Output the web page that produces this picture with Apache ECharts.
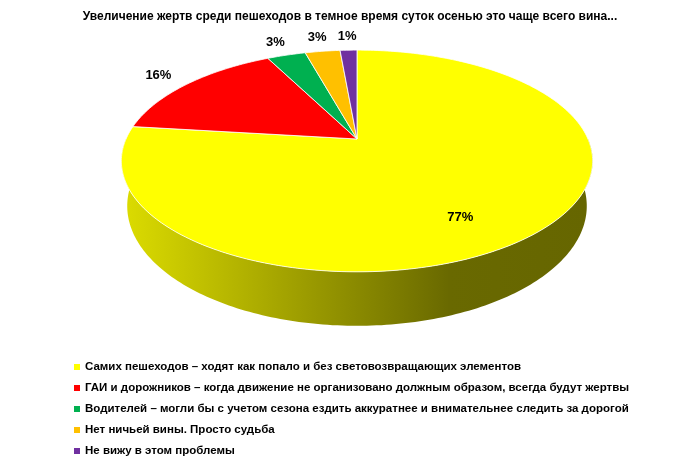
<!DOCTYPE html>
<html>
<head>
<meta charset="utf-8">
<script src="https://cdn.jsdelivr.net/npm/echarts@6/dist/echarts.min.js"></script>
<style>
  html, body { margin: 0; padding: 0; background: #fff; }
  #chart { width: 700px; height: 464px; }
</style>
</head>
<body>
<div id="chart"></div>
<script>
// данные
var categories = [
    'Самих пешеходов – ходят как попало и без световозвращающих элементов',
    'ГАИ и дорожников – когда движение не организовано должным образом, всегда будут жертвы',
    'Водителей – могли бы с учетом сезона ездить аккуратнее и внимательнее следить за дорогой',
    'Нет ничьей вины. Просто судьба',
    'Не вижу в этом проблемы'
];
var values = [76.9, 15.6, 3.2, 2.9, 1.4];
var colors = ['#FFFF00', '#FF0000', '#00B050', '#FFC000', '#7030A0'];

var FONT = '"Liberation Sans", Arial, sans-serif';

// псевдо-3D: перспективная проекция диска
var geo = {
    cx: 357,     // центр по x
    cy: 139,     // проекция центра диска
    ay: 79,      // вертикальный радиус
    sx: 231,     // горизонтальный радиус
    persp: -0.198,
    depth: 43.3, // толщина
    shrink: 0.975
};

function project(r, deg, h) {
    var t = deg * Math.PI / 180;
    var u = r * Math.sin(t);
    var v = -r * Math.cos(t);
    var d = 1 + geo.persp * v;
    var k = 1 - (1 - geo.shrink) * h;
    return [
        geo.cx + geo.sx * k * u / d,
        (geo.ay * v + geo.cy) / d + h * geo.depth / d
    ];
}

var total = values.reduce(function (a, b) { return a + b; }, 0);
var starts = [];
var acc = 0;
values.forEach(function (v) {
    starts.push(acc / total * 360);
    acc += v;
});

function shade(color, f) {
    var c = echarts.color.parse(color);
    return 'rgb(' + Math.round(c[0] * f) + ',' + Math.round(c[1] * f) + ',' + Math.round(c[2] * f) + ')';
}

function arc(a0, a1, h) {
    var pts = [];
    for (var t = a0; t < a1; t += 1) pts.push(project(1, t, h));
    pts.push(project(1, a1, h));
    return pts;
}

function renderSlice(i) {
    return function (params, api) {
        var a0 = starts[i];
        var a1 = a0 + values[i] / total * 360;
        var children = [];

        // верх
        var top = [project(0, 0, 0)].concat(arc(a0, a1, 0));
        children.push({
            type: 'polygon',
            z2: 10,
            shape: { points: top },
            style: { fill: colors[i], stroke: '#fff', lineWidth: 0.8 }
        });

        // боковая стенка (видимая передняя часть)
        var s0 = Math.max(a0, 90), s1 = Math.min(a1, 270);
        if (s1 > s0) {
            var side = arc(s0, s1, 0).concat(arc(s0, s1, 1).reverse());
            children.push({
                type: 'polygon',
                z2: 1,
                shape: { points: side },
                style: {
                    fill: new echarts.graphic.LinearGradient(
                        geo.cx - geo.sx, 0, geo.cx + geo.sx, 0, [
                            { offset: 0, color: shade(colors[i], 0.86) },
                            { offset: 0.7, color: shade(colors[i], 0.41) },
                            { offset: 1, color: shade(colors[i], 0.40) }
                        ], true)
                }
            });
        }

        // подпись
        var mid = (a0 + a1) / 2;
        var pos = values[i] > 50 ? project(0.62, mid, 0.5) : project(1.19, mid, 0);
        children.push({
            type: 'text',
            z2: 20,
            x: pos[0],
            y: pos[1],
            style: {
                text: Math.round(values[i] / total * 100) + '%',
                fill: '#000',
                font: 'bold 13px ' + FONT,
                align: 'center',
                verticalAlign: 'middle'
            }
        });

        return { type: 'group', children: children };
    };
}

var chart = echarts.init(document.getElementById('chart'));
chart.setOption({
    animation: false,
    title: {
        text: 'Увеличение жертв среди пешеходов в темное время суток осенью это чаще всего вина...',
        left: 'center',
        top: 6,
        textStyle: { fontFamily: FONT, fontSize: 12, fontWeight: 'bold', color: '#000' }
    },
    legend: {
        orient: 'vertical',
        left: 69,
        top: 355,
        height: 110,
        icon: 'rect',
        itemWidth: 6,
        itemHeight: 6,
        itemGap: 7,
        selectedMode: false,
        textStyle: { fontFamily: FONT, fontSize: 11.5, fontWeight: 'bold', color: '#000', lineHeight: 14 },
        data: categories
    },
    series: categories.map(function (name, i) {
        return {
            type: 'custom',
            name: name,
            coordinateSystem: 'none',
            silent: true,
            itemStyle: { color: colors[i] },
            renderItem: renderSlice(i),
            data: [[i]]
        };
    })
});
</script>
</body>
</html>
